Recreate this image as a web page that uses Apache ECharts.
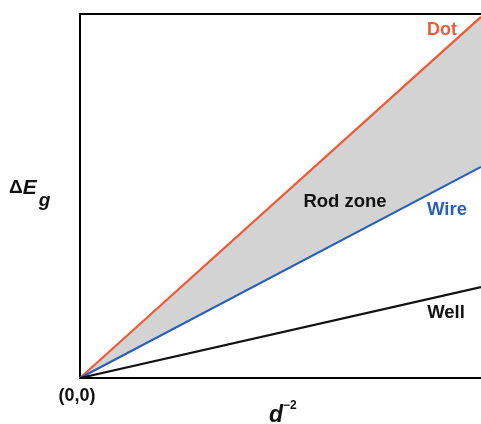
<!DOCTYPE html>
<html>
<head>
<meta charset="utf-8">
<script src="https://cdn.jsdelivr.net/npm/echarts@6/dist/echarts.min.js"></script>
<style>
  html, body { margin: 0; padding: 0; background: #fff; }
  #container { width: 481px; height: 424px; }
</style>
</head>
<body>
<div id="container"></div>
<script>
var dom = document.getElementById('container');
var myChart = echarts.init(dom, null, { renderer: 'canvas' });

// x 轴 d^-2（相对值）
var xVals = [0, 1];
// 各体系 ΔEg（相对值）
var dotVals = [0, 0.992];
var wireVals = [0, 0.58];
var wellVals = [0, 0.25];

var font = 'Liberation Sans, Arial, sans-serif';

function pairs(ys) {
    return xVals.map(function (x, i) { return [x, ys[i]]; });
}

// Rod zone：dot 与 wire 之间的灰色区域
function renderZone(params, api) {
    var pts = [];
    xVals.forEach(function (x, i) { pts.push(api.coord([x, dotVals[i]])); });
    for (var i = xVals.length - 1; i >= 0; i--) {
        pts.push(api.coord([xVals[i], wireVals[i]]));
    }
    return {
        type: 'polygon',
        shape: { points: pts },
        style: { fill: '#d3d3d3' }
    };
}

var option = {
    animation: false,
    grid: { left: 80, right: 0, top: 14, bottom: 46 },
    xAxis: [
        {
            type: 'value', min: 0, max: 1, position: 'bottom',
            axisLine: { show: true, lineStyle: { color: '#000', width: 2 } },
            axisTick: { show: false }, axisLabel: { show: false }, splitLine: { show: false }
        },
        {
            type: 'value', min: 0, max: 1, position: 'top',
            axisLine: { show: true, lineStyle: { color: '#000', width: 2 } },
            axisTick: { show: false }, axisLabel: { show: false }, splitLine: { show: false }
        }
    ],
    yAxis: {
        type: 'value', min: 0, max: 1,
        axisLine: { show: true, lineStyle: { color: '#000', width: 2 } },
        axisTick: { show: false }, axisLabel: { show: false }, splitLine: { show: false }
    },
    series: [
        {
            name: 'zone', type: 'custom', data: [0], renderItem: renderZone,
            silent: true, z: 1
        },
        {
            name: 'Dot', type: 'line', data: pairs(dotVals), symbol: 'none',
            lineStyle: { color: '#ef5a3a', width: 2.2 }, z: 3
        },
        {
            name: 'Wire', type: 'line', data: pairs(wireVals), symbol: 'none',
            lineStyle: { color: '#2b5fb4', width: 2.2 }, z: 3
        },
        {
            name: 'Well', type: 'line', data: pairs(wellVals), symbol: 'none',
            lineStyle: { color: '#111', width: 2.2 }, z: 3
        }
    ],
    graphic: [
        { type: 'text', z: 10, x: 442, y: 30, style: { text: 'Dot', fill: '#ef5a3a', font: 'bold 18px ' + font, align: 'center', verticalAlign: 'middle' } },
        { type: 'text', z: 10, x: 447, y: 210, style: { text: 'Wire', fill: '#2b5fb4', font: 'bold 18.5px ' + font, align: 'center', verticalAlign: 'middle' } },
        { type: 'text', z: 10, x: 345, y: 202, style: { text: 'Rod zone', fill: '#111', font: 'bold 18.5px ' + font, align: 'center', verticalAlign: 'middle' } },
        { type: 'text', z: 10, x: 446, y: 313, style: { text: 'Well', fill: '#111', font: 'bold 18.5px ' + font, align: 'center', verticalAlign: 'middle' } },
        { type: 'text', z: 10, x: 77, y: 396, style: { text: '(0,0)', fill: '#111', font: 'bold 18px ' + font, align: 'center', verticalAlign: 'middle' } },
        {
            type: 'text', z: 10, x: 9, y: 178,
            style: {
                text: '{a|Δ}{e|E}{g|g}',
                rich: {
                    a: { font: 'bold 19px ' + font, fill: '#111', verticalAlign: 'top' },
                    e: { font: 'italic bold 21px ' + font, fill: '#111', verticalAlign: 'top' },
                    g: { font: 'italic bold 19px ' + font, fill: '#111', verticalAlign: 'bottom', padding: [13, 0, 0, 2] }
                }
            }
        },
        {
            type: 'text', z: 10, x: 269, y: 400,
            style: {
                text: '{d|d}{s|−2}',
                rich: {
                    d: { font: 'italic bold 23px ' + font, fill: '#111', verticalAlign: 'bottom', padding: [4, 0, 0, 0] },
                    s: { font: 'bold 12px ' + font, fill: '#111', verticalAlign: 'top', padding: [0, 0, 8, 0] }
                }
            }
        }
    ]
};

myChart.setOption(option);
</script>
</body>
</html>
